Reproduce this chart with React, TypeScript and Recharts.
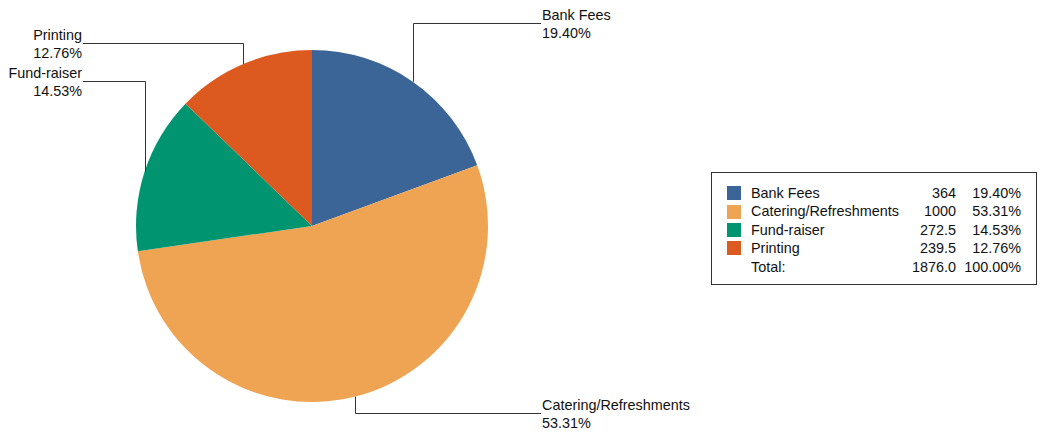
import { Cell, Legend, Pie, PieChart } from "recharts";

const categories = ["Bank Fees", "Catering/Refreshments", "Fund-raiser", "Printing"];
const amounts = [364, 1000, 272.5, 239.5];
const amountLabels = ["364", "1000", "272.5", "239.5"];
const percentLabels = ["19.40%", "53.31%", "14.53%", "12.76%"];
const totalLabel = "1876.0";
const totalPercentLabel = "100.00%";
const colors = ["#3b6597", "#efa453", "#009470", "#dc5920"];

// vertical offset (from pie centre) of each leader's horizontal run
const labelLevels = [-203, 187, -145, -183];

const data = categories.map((name, i) => ({ name, value: amounts[i] }));

const FONT = "'Liberation Sans', Arial, sans-serif";
const FONT_SIZE = 14.4;
const RAD = Math.PI / 180;

const renderLabel = (props: any) => {
  const { cx, cy, midAngle, outerRadius, index } = props;
  const ex = cx + outerRadius * Math.cos(-midAngle * RAD);
  const ey = cy + outerRadius * Math.sin(-midAngle * RAD);
  const ly = Math.round(cy + labelLevels[index]) + 0.5;
  const right = ex > cx;
  const tx = right ? cx + 229 : cx - 229;
  const vx = Math.round(ex) + 0.5;
  return (
    <g key={`lbl-${index}`}>
      <polyline
        points={`${vx},${ey} ${vx},${ly} ${tx},${ly}`}
        fill="none"
        stroke="#333"
        strokeWidth={1}
      />
      <text
        x={right ? tx + 1 : tx - 1}
        y={ly - 4}
        textAnchor={right ? "start" : "end"}
        fontFamily={FONT}
        fontSize={FONT_SIZE}
        fill="#111"
      >
        {categories[index]}
      </text>
      <text
        x={right ? tx + 1 : tx - 1}
        y={ly + 14}
        textAnchor={right ? "start" : "end"}
        fontFamily={FONT}
        fontSize={FONT_SIZE}
        fill="#111"
      >
        {percentLabels[index]}
      </text>
    </g>
  );
};

const rowStyle = {
  display: "flex",
  alignItems: "center",
  height: 18.4,
  lineHeight: "18.4px",
};

const LegendTable = () => (
  <div
    style={{
      width: 326,
      height: 113,
      border: "1px solid #333",
      boxSizing: "border-box" as const,
      paddingTop: 11,
      fontFamily: FONT,
      fontSize: FONT_SIZE,
      color: "#111",
      background: "#fff",
    }}
  >
    {categories.map((name, i) => (
      <div key={name} style={rowStyle}>
        <div style={{ width: 15 }} />
        <div style={{ width: 14, height: 14, background: colors[i] }} />
        <div style={{ width: 10 }} />
        <div style={{ width: 145, whiteSpace: "nowrap" }}>{name}</div>
        <div style={{ width: 60, textAlign: "right" }}>{amountLabels[i]}</div>
        <div style={{ width: 65, textAlign: "right" }}>{percentLabels[i]}</div>
      </div>
    ))}
    <div style={rowStyle}>
      <div style={{ width: 39 }} />
      <div style={{ width: 145 }}>Total:</div>
      <div style={{ width: 60, textAlign: "right" }}>{totalLabel}</div>
      <div style={{ width: 65, textAlign: "right" }}>{totalPercentLabel}</div>
    </div>
  </div>
);

export default function App() {
  return (
    <div style={{ position: "absolute", left: 0, top: 0, background: "#fff" }}>
      <PieChart
        width={1042}
        height={436}
        margin={{ top: 0, right: 0, bottom: 0, left: 0 }}
      >
        <Pie
          data={data}
          dataKey="value"
          nameKey="name"
          cx={312}
          cy={226}
          outerRadius={176}
          startAngle={90}
          endAngle={-270}
          stroke="none"
          label={renderLabel}
          labelLine={false}
          isAnimationActive={false}
        >
          {data.map((d, i) => (
            <Cell key={d.name} fill={colors[i]} />
          ))}
        </Pie>
        <Legend
          content={() => <LegendTable />}
          wrapperStyle={{ position: "absolute", left: 711, top: 172, width: 326 }}
        />
      </PieChart>
    </div>
  );
}
